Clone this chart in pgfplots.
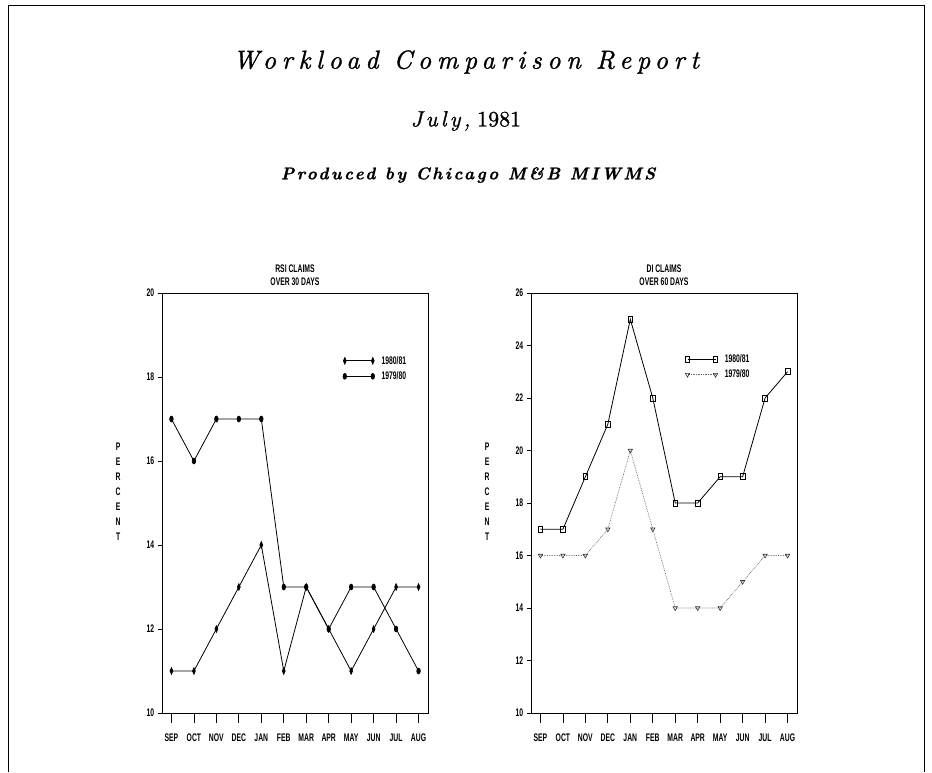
\documentclass[border=0pt]{standalone}
\usepackage{fontspec}
\usepackage{pgfplots}
\pgfplotsset{compat=1.18}
\newfontfamily\plotfont{Liberation Sans}[FakeStretch=0.62, BoldFont=Liberation Sans Bold]
\newfontfamily\titlefont{lmroman10}[Extension=.otf, UprightFont=*-regular, ItalicFont=*-italic, BoldFont=*-bold, BoldItalicFont=*-bolditalic, LetterSpace=22, FakeBold=1.2]
\newfontfamily\subfont{lmroman10}[Extension=.otf, UprightFont=*-regular, ItalicFont=*-italic, BoldFont=*-bold, BoldItalicFont=*-bolditalic, LetterSpace=15, FakeBold=1]
\newfontfamily\numfont{lmroman10}[Extension=.otf, UprightFont=*-regular, FakeBold=1]
\newcommand\pf{\plotfont\bfseries\fontsize{11}{11}\selectfont}
\pgfplotsset{
  myaxis/.style={
    scale only axis, width=266pt, height=420pt,
    xmin=-0.42, xmax=11.42,
    xtick={0,...,11},
    xticklabels={SEP,OCT,NOV,DEC,JAN,FEB,MAR,APR,MAY,JUN,JUL,AUG},
    tick align=outside, tick pos=left,
    minor tick num=0,
    xtick style={black, line width=0.7pt, /pgfplots/major tick length=10pt},
    ytick style={black, line width=0.7pt, /pgfplots/major tick length=4pt},
    axis line style={black, line width=0.9pt},
    /pgf/number format/assume math mode=true,
    ticklabel style={font=\pf},
    xticklabel style={yshift=-13pt},
    title style={font=\plotfont\bfseries\fontsize{11}{13}\selectfont, align=center, at={(0.5,1)}, anchor=south, yshift=1pt, inner sep=0pt},
    ylabel={P\\E\\R\\C\\E\\N\\T},
    ylabel style={at={(axis description cs:-0.165,0.526)}, anchor=center, rotate=-90, align=center, font=\plotfont\bfseries\fontsize{11}{15}\selectfont},
    legend style={draw=none, fill=none, font=\pf, inner sep=0pt, nodes={inner sep=0pt}, row sep=6pt,
      /tikz/every odd column/.append style={column sep=7pt}},
    legend cell align=left,
    legend image code/.code={\draw[##1] plot coordinates {(0pt,0pt) (28pt,0pt)};},
  }
}
\begin{document}
\begin{tikzpicture}
\useasboundingbox (0pt,0pt) rectangle (932pt,772pt);
\draw[line width=0.8pt] (8pt,0pt) -- (8pt,767pt) -- (924pt,767pt) -- (924pt,0pt);
\node[font=\titlefont\itshape\fontsize{26}{26}\selectfont] at (466pt,710pt) {Workload Comparison Report};
\node[font=\fontsize{22}{22}\selectfont] at (466pt,651pt) {{\subfont\itshape July,} {\numfont 1981}};
\node[font=\subfont\bfseries\itshape\fontsize{17}{17}\selectfont] at (468pt,597pt) {Produced by Chicago M\&B MIWMS};

\begin{axis}[myaxis, at={(162pt,59pt)}, anchor=south west,
  ymin=10, ymax=20, ytick={10,12,...,20},
  title={RSI CLAIMS\\OVER 30 DAYS},
  legend style={at={(0.680,0.820)}, anchor=west}]
\addplot[black, line width=0.8pt, mark=diamond*, mark size=2.3pt, mark options={solid, xscale=0.8, yscale=1.4}]
  coordinates {(0,11)(1,11)(2,12)(3,13)(4,14)(5,11)(6,13)(7,12)(8,11)(9,12)(10,13)(11,13)};
\addlegendentry{1980/81}
\addplot[black, line width=0.8pt, mark=*, mark size=2.3pt, mark options={solid, xscale=0.75, yscale=1.25}]
  coordinates {(0,17)(1,16)(2,17)(3,17)(4,17)(5,13)(6,13)(7,12)(8,13)(9,13)(10,12)(11,11)};
\addlegendentry{1979/80}
\end{axis}

\begin{axis}[myaxis, at={(531pt,59pt)}, anchor=south west,
  ymin=10, ymax=26, ytick={10,12,...,26},
  title={DI CLAIMS\\OVER 60 DAYS},
  legend style={at={(0.579,0.824)}, anchor=west}]
\addplot[black, line width=0.8pt, mark=square, mark size=2.3pt, mark options={solid, yscale=1.3, line width=0.7pt}]
  coordinates {(0,17)(1,17)(2,19)(3,21)(4,25)(5,22)(6,18)(7,18)(8,19)(9,19)(10,22)(11,23)};
\addlegendentry{1980/81}
\addplot[black!60, densely dotted, line width=0.7pt, mark=triangle, mark size=2.5pt, mark options={solid, rotate=180, black!80, line width=0.6pt}]
  coordinates {(0,16)(1,16)(2,16)(3,17)(4,20)(5,17)(6,14)(7,14)(8,14)(9,15)(10,16)(11,16)};
\addlegendentry{1979/80}
\end{axis}
\end{tikzpicture}
\end{document}
